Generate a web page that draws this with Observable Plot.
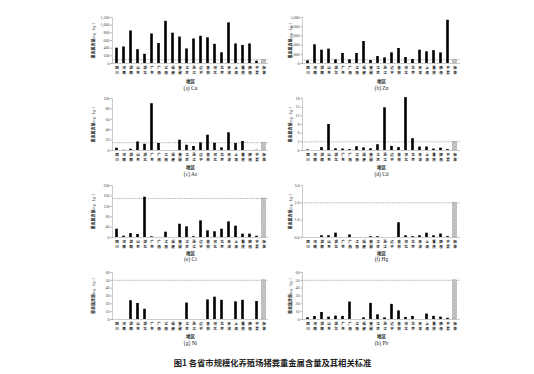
<!DOCTYPE html>
<html><head><meta charset="utf-8">
<script src="https://cdn.jsdelivr.net/npm/d3@7"></script>
<script src="https://cdn.jsdelivr.net/npm/@observablehq/plot@0.6"></script>
<style>
body{margin:0;background:#fff;}
#root{position:relative;width:534px;height:374px;overflow:hidden;background:#fff;}
#root svg.plot, #root figure svg{position:absolute;background:transparent;overflow:visible;}
#caption{position:absolute;left:0;width:545px;top:356px;text-align:center;font:bold 8.3px "Noto Sans CJK SC";color:#222;white-space:pre;}
</style></head><body>
<div id="root">
<svg width="0" height="0" style="position:absolute"><defs>
<pattern id="hatch" width="1.4" height="1.4" patternUnits="userSpaceOnUse">
<rect width="1.4" height="1.4" fill="#e8e8e8"/><rect width="0.7" height="0.7" fill="#999"/><rect x="0.7" y="0.7" width="0.7" height="0.7" fill="#999"/>
</pattern></defs></svg>
<div id="caption">图1 各省市规模化养殖场猪粪重金属含量及其相关标准</div>
</div>
<script>
// ---- data ----
const provinces = ["四川","河南","湖南","山东","湖北","广东","广西","江西","福建","安徽","江苏","浙江","辽宁","吉林","河北","北京","天津","上海","重庆","陕西","宁夏"];
const standardLabel = "标准";
const cu = [400, 430, 850, 360, 240, 770, 520, 1100, 790, 690, 380, 640, 710, 670, 500, 280, 1060, 510, 470, 510, 60];
const zn = [290, 2030, 1450, 1560, 400, 1090, 400, 1090, 2390, 330, 760, 615, 1160, 1630, 650, 430, 1450, 1270, 1400, 1150, 4700];
const as = [4.4, 0.5, 2.5, 16.5, 12, 90, 13.5, null, null, 19.8, 10, 7.7, 14.6, 29.4, 14, 5, 34, 13.5, 17.3, null, 0.5];
const cd = [0.2, null, 1.0, 9.0, 0.6, 0.5, 0.3, 1.3, 0.9, 0.6, 2.0, 14.8, 1.4, 1.0, 18.3, 4.1, 1.2, 1.2, 0.5, 0.8, 0.3];
const cr = [32, 5, 15, 11.5, 155, 3, null, 20.5, null, 51, 41, 3, 64, 25.6, 22, 32, 60, 43.6, 13, 13, 5];
const hg = [null, null, 0.1, 0.1, 0.25, null, 0.15, null, null, 0.05, 0.05, null, null, 0.85, 0.1, 0.05, 0.1, 0.25, 0.1, 0.2, 0.05];
const ni = [null, null, 24, 20.5, 13, null, null, null, null, null, 21, null, null, 25, 28.5, 24.5, null, 22.5, 24.5, null, 23];
const pb = [2.1, 3.9, 9, 3, 4.3, 3.9, 22.3, null, 2.1, 20.6, 6, 2.1, 19.3, 11, 2.6, 3.9, null, 6.9, 4, 3, 1.5];
const standards = {Cu: 100, Zn: 400, As: 15, Cd: 3, Cr: 150, Hg: 2, Ni: 50, Pb: 50};
const panelTitles = ["(a) Cu","(b) Zn","(c) As","(d) Cd","(e) Cr","(f) Hg","(g) Ni","(h) Pb"];
const metals = ["Cu","Zn","As","Cd","Cr","Hg","Ni","Pb"];
const seriesList = [cu, zn, as, cd, cr, hg, ni, pb];
const axisMax = [1200, 5000, 100, 18, 200, 3, 60, 60];
const axisStep = [200, 1000, 20, 3, 40, 1, 10, 10];
const xLabel = "地区";

// ---- layout ----
const colLeft = [60, 270], colMarginLeft = [52, 32], colWidth = [214, 194], colLabelOffset = [20, 13];
const rowMax = [17, 97.5, 184.5, 271.5], rowZero = [63, 149.5, 236.5, 318.5];
const rowDyLabel = [19, 18.8, 17, 18.5], rowDyTitle = [26, 25, 23, 25.2];
const mTop = 10, mBottom = 32;

const root = document.getElementById("root");
const categories = [...provinces, standardLabel];

metals.forEach((m, i) => {
  const col = i % 2, row = Math.floor(i / 2);
  const data = provinces.map((p, k) => ({cat: p, v: seriesList[i][k]})).filter(d => d.v != null);
  const std = [{cat: standardLabel, v: standards[m]}];
  const plotH = rowZero[row] - rowMax[row];
  const chart = Plot.plot({
    width: colWidth[col],
    height: mTop + plotH + mBottom,
    marginTop: mTop, marginBottom: mBottom,
    marginLeft: colMarginLeft[col], marginRight: 6 - col * 2,
    style: {fontFamily: "Liberation Serif", fontSize: "4px", color: "#333", background: "transparent", overflow: "visible"},
    x: {domain: categories, padding: 0},
    y: {domain: [0, axisMax[i]]},
    marks: [
      Plot.ruleY([standards[m]], {stroke: "#777", strokeWidth: 0.6, strokeDasharray: "1,0.8"}),
      Plot.barY(data, {x: "cat", y: "v", fill: "#000", insetLeft: 2.2, insetRight: 2.2}),
      Plot.barY(std, {x: "cat", y: "v", fill: "url(#hatch)", stroke: "#888", strokeWidth: 0.4, insetLeft: 1.6, insetRight: 1.6}),
      Plot.ruleY([0], {stroke: "#aaa", strokeWidth: 0.6}),
      Plot.frame({anchor: "left", stroke: "#aaa", strokeWidth: 0.6}),
      Plot.axisY({ticks: d3.range(0, axisMax[i] + axisStep[i] / 2, axisStep[i]), tickSize: 1.5, tickPadding: 1.5,
        fontSize: 4, fill: "#444", stroke: "#aaa", label: "重金属含量mg · kg-1", labelAnchor: "center", labelArrow: "none",
        labelOffset: colLabelOffset[col]}),
      Plot.axisX({tickSize: 0, tickPadding: 2.5, fontSize: 3.6, lineHeight: 1.25, fontWeight: "bold", fill: "#222",
        fontFamily: "Noto Sans CJK SC", tickFormat: d => d.split("").join("\n"), label: null}),
      Plot.text([xLabel], {frameAnchor: "bottom", dy: rowDyLabel[row], fontSize: 4.5, fontWeight: "bold", fontFamily: "Noto Sans CJK SC", fill: "#222"}),
      Plot.text([panelTitles[i]], {frameAnchor: "bottom", dy: rowDyTitle[row], fontSize: 5.5, fontFamily: "Liberation Serif", fill: "#222"})
    ]
  });
  const svg = chart.tagName.toLowerCase() === "svg" ? chart : chart.querySelector("svg");
  chart.style.position = "absolute";
  chart.style.left = colLeft[col] + "px";
  chart.style.top = (rowMax[row] - mTop) + "px";
  // y label styling: Chinese part bold
  const lab = svg.querySelector('[aria-label="y-axis label"] text');
  if (lab) {
    lab.textContent = "";
    const ns = "http://www.w3.org/2000/svg";
    const t1 = document.createElementNS(ns, "tspan"); t1.textContent = "重金属含量"; t1.setAttribute("font-weight", "bold"); t1.setAttribute("font-family", "Noto Sans CJK SC"); t1.setAttribute("fill", "#222");
    const t2 = document.createElementNS(ns, "tspan"); t2.textContent = "mg · kg-1"; t2.setAttribute("fill", "#555");
    lab.appendChild(t1); lab.appendChild(t2);
  }
  root.appendChild(chart);
});
</script>
</body></html>
